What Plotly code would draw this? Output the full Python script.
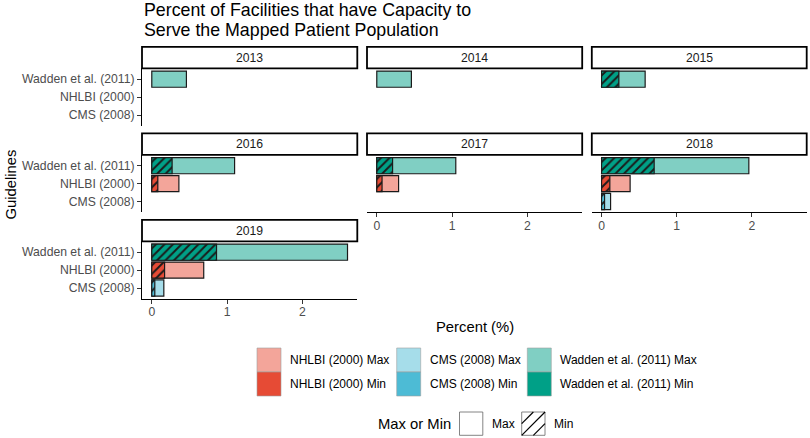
import plotly.graph_objects as go

# ---------------- data ----------------
years = ["2013", "2014", "2015", "2016", "2017", "2018", "2019"]
guidelines = ["CMS (2008)", "NHLBI (2000)", "Wadden et al. (2011)"]

wadden_max = [0.46, 0.46, 0.58, 1.10, 1.05, 1.96, 2.60]
wadden_min = [None, None, 0.23, 0.27, 0.21, 0.70, 0.86]
nhlbi_max = [None, None, None, 0.36, 0.29, 0.38, 0.69]
nhlbi_min = [None, None, None, 0.08, 0.07, 0.11, 0.17]
cms_max = [None, None, None, None, None, 0.12, 0.16]
cms_min = [None, None, None, None, None, 0.04, 0.04]

x_ticks = [0, 1, 2]

legend_labels = ["NHLBI (2000) Max", "NHLBI (2000) Min",
                 "CMS (2008) Max", "CMS (2008) Min",
                 "Wadden et al. (2011) Max", "Wadden et al. (2011) Min"]

# ---------------- styles ----------------
W, H = 810, 438
FONT = "Liberation Sans, Arial, sans-serif"
col_min = {"CMS (2008)": "#4DBBD5", "NHLBI (2000)": "#E64B35", "Wadden et al. (2011)": "#00A087"}
col_max = {"CMS (2008)": "#A6DDEA", "NHLBI (2000)": "#F3A59A", "Wadden et al. (2011)": "#80CFC3"}

max_vals = {"CMS (2008)": cms_max, "NHLBI (2000)": nhlbi_max, "Wadden et al. (2011)": wadden_max}
min_vals = {"CMS (2008)": cms_min, "NHLBI (2000)": nhlbi_min, "Wadden et al. (2011)": wadden_min}


def px(x):
    return x / W


def py(y):
    return 1 - y / H


col_x = [(142.0, 357.3), (367.0, 582.2), (591.8, 806.7)]
strip_h = 21.6
panel_h = 57.4
row_top = [46.8, 133.3, 219.8]  # strip tops

xmax_all = max(v for v in wadden_max if v is not None)
xr = [-0.05 * xmax_all, xmax_all * 1.05]

fig = go.Figure()
shapes = []
annotations = []
TICKFONT = dict(family=FONT, size=12.2, color="#4D4D4D")

for i, yr in enumerate(years):
    r, c = divmod(i, 3)
    x0, x1 = col_x[c]
    s0 = row_top[r]
    p0 = s0 + strip_h
    p1 = p0 + panel_h
    ax = "" if i == 0 else str(i + 1)
    xa, ya = "x" + ax, "y" + ax

    show_x = yr in ("2017", "2018", "2019")
    show_y = c == 0

    fig.layout["xaxis" + ax] = dict(
        domain=[px(x0), px(x1)], anchor=ya, range=xr, showgrid=False, zeroline=False,
        showline=show_x, linecolor="black", linewidth=1.1,
        ticks="outside" if show_x else "", ticklen=4, tickwidth=1, tickcolor="#333333",
        tickvals=x_ticks if show_x else [], showticklabels=show_x, ticklabelstandoff=-2,
        tickfont=TICKFONT, fixedrange=True,
    )
    fig.layout["yaxis" + ax] = dict(
        domain=[py(p1), py(p0)], anchor=xa, type="category", categoryorder="array",
        categoryarray=guidelines, range=[-0.6, 2.6], showgrid=False, zeroline=False,
        showline=show_y, linecolor="black", linewidth=1.1,
        ticks="outside" if show_y else "", ticklen=4, tickwidth=1, tickcolor="#333333",
        showticklabels=show_y, tickfont=TICKFONT, fixedrange=True,
    )

    # max bars
    for g in guidelines:
        v = max_vals[g][i]
        if v is not None:
            fig.add_trace(go.Bar(x=[v], y=[g], orientation="h", width=0.9, xaxis=xa, yaxis=ya,
                                 marker=dict(color=col_max[g], line=dict(color="#1a1a1a", width=1.2)),
                                 showlegend=False, hoverinfo="x+y"))
    # min bars (hatched)
    for g in guidelines:
        v = min_vals[g][i]
        if v is not None:
            fig.add_trace(go.Bar(x=[v], y=[g], orientation="h", width=0.9, xaxis=xa, yaxis=ya,
                                 marker=dict(color=col_min[g], line=dict(color="#1a1a1a", width=1.2),
                                             pattern=dict(shape="/", fillmode="replace",
                                                          bgcolor=col_min[g], fgcolor="#1a1a1a",
                                                          size=6, solidity=0.32)),
                                 showlegend=False, hoverinfo="x+y"))

    # strip
    shapes.append(dict(type="rect", xref="paper", yref="paper",
                       x0=px(x0), x1=px(x1), y0=py(s0 + strip_h), y1=py(s0),
                       fillcolor="white", line=dict(color="black", width=1.8), layer="above"))
    annotations.append(dict(text=yr, xref="paper", yref="paper", x=px((x0 + x1) / 2),
                            y=py(s0 + strip_h / 2), showarrow=False, xanchor="center", yanchor="middle",
                            font=dict(family=FONT, size=12.2, color="#1A1A1A")))

# title
annotations.append(dict(text="Percent of Facilities that have Capacity to", xref="paper", yref="paper",
                        x=px(142), y=py(10.5), xanchor="left", yanchor="middle", showarrow=False,
                        font=dict(family=FONT, size=17.8, color="black")))
annotations.append(dict(text="Serve the Mapped Patient Population", xref="paper", yref="paper",
                        x=px(142), y=py(29.5), xanchor="left", yanchor="middle", showarrow=False,
                        font=dict(family=FONT, size=17.8, color="black")))
# axis titles
annotations.append(dict(text="Percent (%)", xref="paper", yref="paper", x=px(474.5), y=py(327),
                        xanchor="center", yanchor="middle", showarrow=False,
                        font=dict(family=FONT, size=14.8, color="black")))
annotations.append(dict(text="Guidelines", xref="paper", yref="paper", x=px(10.5), y=py(185),
                        xanchor="center", yanchor="middle", showarrow=False, textangle=-90,
                        font=dict(family=FONT, size=14.8, color="black")))

# legend 1 (fill)
leg_cols = [(257.0, "NHLBI (2000)"), (396.7, "CMS (2008)"), (527.3, "Wadden et al. (2011)")]
key = 24.0
ky0 = 348.0
for j, (lx, g) in enumerate(leg_cols):
    for k, (kind, colr) in enumerate([("Max", col_max[g]), ("Min", col_min[g])]):
        ty = ky0 + k * key
        shapes.append(dict(type="rect", xref="paper", yref="paper", x0=px(lx), x1=px(lx + key),
                           y0=py(ty + key), y1=py(ty), fillcolor=colr,
                           line=dict(color="#A0A0A0", width=0.6)))
        annotations.append(dict(text=legend_labels[2 * j + k], xref="paper", yref="paper",
                                x=px(lx + key + 7), y=py(ty + key / 2), xanchor="left", yanchor="middle",
                                showarrow=False, font=dict(family=FONT, size=12.0, color="black")))

# legend 2 (pattern)
annotations.append(dict(text="Max or Min", xref="paper", yref="paper", x=px(376.0), y=py(424),
                        xanchor="left", yanchor="middle", showarrow=False,
                        font=dict(family=FONT, size=14.8, color="black")))
bx_max, bx_min, by0, bs = 459.5, 521.7, 412.0, 23.3
for bx, lab in [(bx_max, "Max"), (bx_min, "Min")]:
    shapes.append(dict(type="rect", xref="paper", yref="paper", x0=px(bx), x1=px(bx + bs),
                       y0=py(by0 + bs), y1=py(by0), fillcolor="white",
                       line=dict(color="#666666", width=0.8)))
    annotations.append(dict(text=lab, xref="paper", yref="paper", x=px(bx + bs + 7), y=py(by0 + bs / 2),
                            xanchor="left", yanchor="middle", showarrow=False,
                            font=dict(family=FONT, size=12.0, color="black")))
# hatch lines in Min key
h = bs / 2
for (ax0, ay0, ax1, ay1) in [(0, bs, bs, 0), (0, h, h, 0), (h, bs, bs, h)]:
    shapes.append(dict(type="line", xref="paper", yref="paper",
                       x0=px(bx_min + ax0), y0=py(by0 + ay0), x1=px(bx_min + ax1), y1=py(by0 + ay1),
                       line=dict(color="black", width=1.2)))

fig.update_layout(
    width=W, height=H, margin=dict(l=0, r=0, t=0, b=0),
    paper_bgcolor="white", plot_bgcolor="white",
    barmode="overlay", showlegend=False,
    shapes=shapes, annotations=annotations,
    font=dict(family=FONT),
)

fig.write_html("out.html", config={"displayModeBar": False},
               post_script="document.body.style.margin='0px';")
